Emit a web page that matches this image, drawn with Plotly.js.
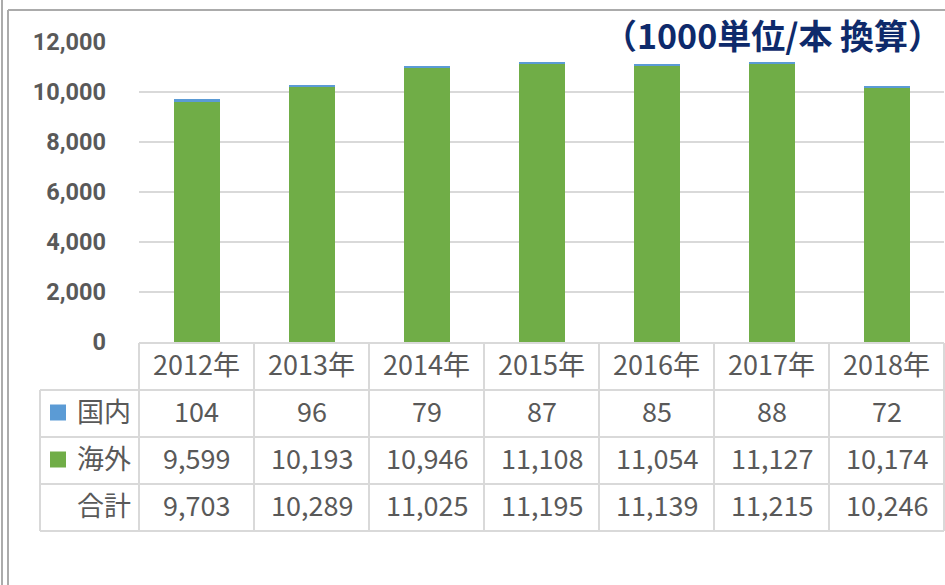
<!DOCTYPE html>
<html>
<head>
<meta charset="utf-8">
<script src="https://cdn.plot.ly/plotly-3.0.1.min.js"></script>
<style>html,body{margin:0;padding:0;background:#fff;}#chart{width:945px;height:585px;}</style>
</head>
<body>
<div id="chart"></div>
<script>
// ---- data ----
const years = ['2012年','2013年','2014年','2015年','2016年','2017年','2018年'];
const domestic = [104, 96, 79, 87, 85, 88, 72];            // 国内
const overseas = [9599, 10193, 10946, 11108, 11054, 11127, 10174]; // 海外
const totals = [9703, 10289, 11025, 11195, 11139, 11215, 10246];   // 合計
const rowLabels = ['国内', '海外', '合計'];
const yTicks = [0, 2000, 4000, 6000, 8000, 10000, 12000];
const unitLabel = '（1000単位/本 換算）';

// ---- geometry ----
const FW = 945, FH = 585;
const M = {l: 139, r: 1, t: 42, b: 243};
const PW = FW - M.l - M.r, PH = FH - M.t - M.b;
const px = p => (p - M.l) / PW;
const py = p => (FH - M.b - p) / PH;

const BLUE = '#5B9BD5', GREEN = '#70AD47', GRID = '#D9D9D9', TXT = '#595959';
const CJK = 'Noto Sans CJK JP, Noto Sans, sans-serif';

const traces = [
  {type: 'bar', name: '海外', x: years, y: overseas, marker: {color: GREEN, line: {width: 0}}, hoverinfo: 'skip'},
  {type: 'bar', name: '国内', x: years, y: domestic, marker: {color: BLUE, line: {width: 0}}, hoverinfo: 'skip'}
];

const shapes = [];
const annotations = [];
const lineStyle = {color: GRID, width: 2};

// frame lines
shapes.push({type: 'line', xref: 'paper', yref: 'paper', x0: px(2), x1: px(2), y0: py(0), y1: py(585), line: {color: '#ABABAB', width: 2}});
shapes.push({type: 'line', xref: 'paper', yref: 'paper', x0: px(8), x1: px(8), y0: py(10), y1: py(585), line: {color: '#ABABAB', width: 2}});
shapes.push({type: 'line', xref: 'paper', yref: 'paper', x0: px(8), x1: px(945), y0: py(10), y1: py(10), line: {color: '#ABABAB', width: 2}});

// table rows (pixel rows)
const rowTop = 343, rowH = 47;
const hLines = [rowTop, rowTop + rowH, rowTop + 2 * rowH, rowTop + 3 * rowH, rowTop + 4 * rowH];
hLines.forEach((yy, i) => {
  shapes.push({type: 'line', xref: 'paper', yref: 'paper', x0: i === 0 ? px(139) : px(40), x1: px(944), y0: py(yy), y1: py(yy), line: lineStyle});
});
// category boundary verticals
for (let i = 0; i <= years.length; i++) {
  const xv = i - 0.5;
  if (i === years.length) {
    shapes.push({type: 'line', xref: 'paper', yref: 'paper', x0: px(944), x1: px(944), y0: py(rowTop), y1: py(hLines[4]), line: lineStyle});
  } else if (i === 0) {
    shapes.push({type: 'line', xref: 'paper', yref: 'paper', x0: px(139), x1: px(139), y0: py(rowTop), y1: py(hLines[4]), line: lineStyle});
  } else {
    shapes.push({type: 'line', xref: 'x', yref: 'paper', x0: xv, x1: xv, y0: py(rowTop), y1: py(hLines[4]), line: lineStyle});
  }
}
// left column border
shapes.push({type: 'line', xref: 'paper', yref: 'paper', x0: px(40), x1: px(40), y0: py(hLines[1]), y1: py(hLines[4]), line: lineStyle});

// legend keys
[BLUE, GREEN].forEach((c, i) => {
  const cy = hLines[1 + i] + rowH / 2;
  shapes.push({type: 'rect', xref: 'paper', yref: 'paper', x0: px(50), x1: px(66), y0: py(cy - 9), y1: py(cy + 7), fillcolor: c, line: {width: 0}});
});

const tblFont = {family: CJK, size: 27, color: TXT};
const dy = -3;
// header years
years.forEach((yr, i) => {
  annotations.push({xref: 'x', yref: 'paper', x: yr, y: py(rowTop + rowH / 2 + dy), text: yr, showarrow: false, xanchor: 'center', yanchor: 'middle', font: tblFont});
});
const fmt = v => v.toLocaleString('en-US');
[domestic, overseas, totals].forEach((arr, r) => {
  const cy = hLines[1 + r] + rowH / 2 + dy;
  annotations.push({xref: 'paper', yref: 'paper', x: px(133), y: py(cy), text: rowLabels[r], showarrow: false, xanchor: 'right', yanchor: 'middle', font: tblFont});
  arr.forEach((v, i) => {
    annotations.push({xref: 'x', yref: 'paper', x: years[i], y: py(cy), text: fmt(v), showarrow: false, xanchor: 'center', yanchor: 'middle', font: tblFont});
  });
});

// unit label
annotations.push({xref: 'paper', yref: 'paper', x: px(944), y: py(35), text: unitLabel, showarrow: false, xanchor: 'right', yanchor: 'middle',
  font: {family: CJK, size: 34, color: '#0E2A6B', weight: 'bold'}});

const layout = {
  width: FW, height: FH,
  margin: M,
  paper_bgcolor: '#fff', plot_bgcolor: '#fff',
  barmode: 'stack', bargap: 0.6,
  showlegend: false,
  xaxis: {type: 'category', range: [-0.5, 6.5], showticklabels: false, showgrid: false, showline: false, zeroline: false, ticks: ''},
  yaxis: {range: [0, 12000], tickvals: yTicks, tickformat: ',d', showgrid: true, gridcolor: GRID, gridwidth: 1.5,
    zeroline: false, showline: false, ticks: '', ticklabelstandoff: 32,
    tickfont: {family: 'Roboto, Liberation Sans, sans-serif', size: 23.5, color: TXT, weight: 'bold'}},
  shapes: shapes,
  annotations: annotations
};

Plotly.newPlot('chart', traces, layout, {staticPlot: true, displayModeBar: false});
</script>
</body>
</html>
